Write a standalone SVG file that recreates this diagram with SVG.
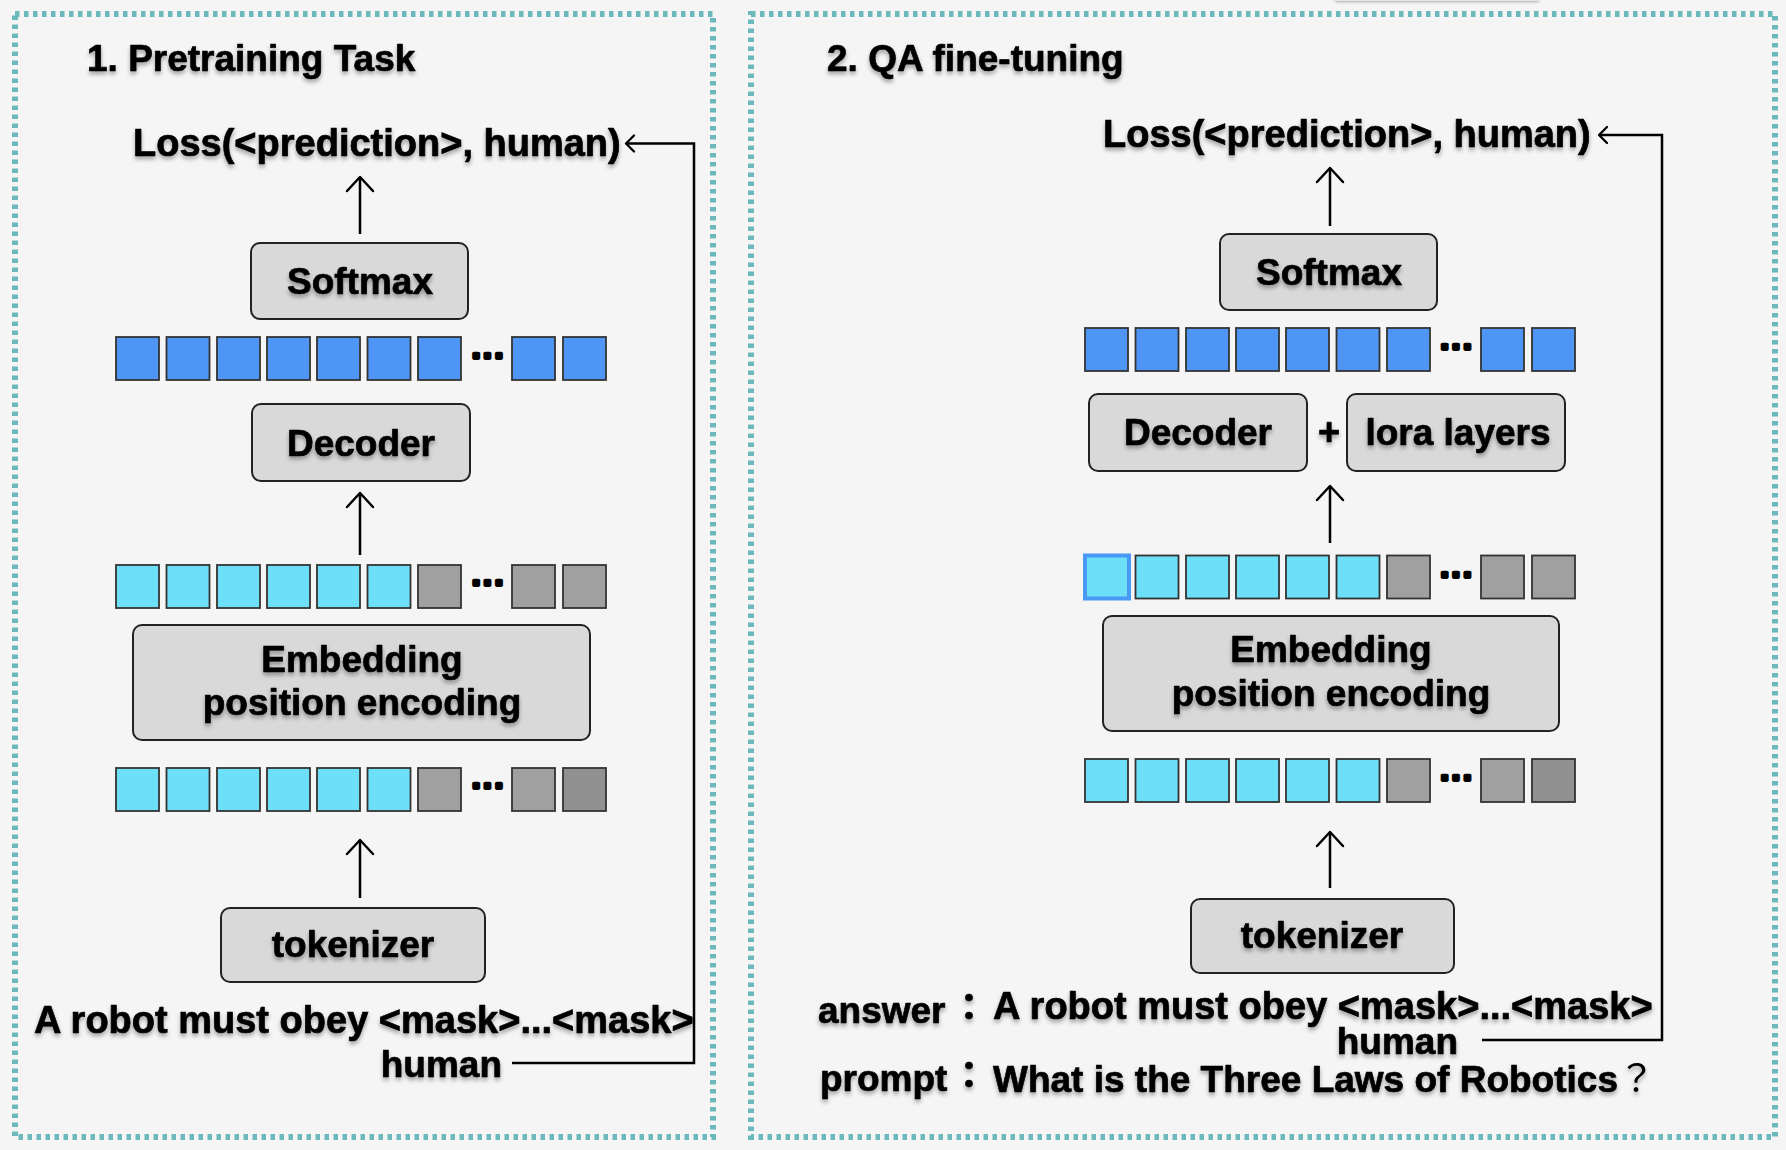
<svg xmlns="http://www.w3.org/2000/svg" width="1786" height="1150" viewBox="0 0 1786 1150">
<style>
.panel{fill:none;stroke:#6bb9bd;stroke-width:6;stroke-dasharray:4.5 4.5}
.box{fill:#d9d9d9;stroke:#222;stroke-width:2}
.sq{stroke:#333;stroke-width:1.8}
.b{fill:#4f95f5}
.c{fill:#6ddff9}
.g{fill:#a0a0a0}
.g2{fill:#919191}
.hl{stroke:#4a9af5;stroke-width:4}
text{font-family:"Liberation Sans",Arial,"Noto Sans CJK JP",sans-serif;font-weight:bold;fill:#000;stroke:#000;stroke-width:0.7;stroke-linejoin:round}
.t{font-size:37px}
.big{font-size:38px}
.mid{text-anchor:middle}
.end{text-anchor:end}
.sh{filter:url(#ts)}
.dots{font-size:30px;stroke-width:3.8;letter-spacing:3px;text-anchor:middle}
.ln{fill:none;stroke:#000;stroke-width:2.5}
</style>
<defs>
<filter id="ts" x="-5%" y="-30%" width="110%" height="170%">
<feDropShadow dx="0" dy="3" stdDeviation="2" flood-color="#000" flood-opacity="0.35"/>
</filter>
<filter id="bs" x="-10%" y="-100%" width="120%" height="400%">
<feDropShadow dx="0" dy="1" stdDeviation="1.5" flood-color="#000" flood-opacity="0.3"/>
</filter>
<marker id="up" viewBox="-16 -15 18 30" refX="0" refY="0" markerWidth="18" markerHeight="30" markerUnits="userSpaceOnUse" orient="auto">
<path d="M-14,-13 L0,0 L-14,13" fill="none" stroke="#000" stroke-width="2.5" stroke-linecap="round" stroke-linejoin="round"/>
</marker>
<marker id="sm" viewBox="-10 -10 12 20" refX="0" refY="0" markerWidth="12" markerHeight="20" markerUnits="userSpaceOnUse" orient="auto">
<path d="M-8,-8 L0,0 L-8,8" fill="none" stroke="#000" stroke-width="2.3" stroke-linecap="round" stroke-linejoin="round"/>
</marker>
</defs>
<rect x="0" y="0" width="1786" height="1150" fill="#f5f5f5"/>
<rect x="1335" y="-8" width="204" height="9" rx="2" fill="#e6e6e6" filter="url(#bs)"/>

<g id="panel-pretraining">
<rect class="panel" x="15" y="14" width="698" height="1123"/>
<text class="t sh" x="87" y="71">1. Pretraining Task</text>
</g>
<g id="panel-qa">
<rect class="panel" x="751" y="14" width="1024" height="1123"/>
<text class="t sh" x="827" y="71">2. QA fine-tuning</text>
</g>

<!-- Left panel nodes -->
<g id="loss-left"><text class="big sh" x="133" y="156">Loss(&lt;prediction&gt;, human)</text></g>
<g id="softmax-left"><rect class="box" x="251" y="243" width="217" height="76" rx="9"/><text class="t mid sh" x="360" y="294">Softmax</text></g>
<g id="logits-left">
<rect class="sq b" x="116" y="337" width="43" height="43"/>
<rect class="sq b" x="166.5" y="337" width="43" height="43"/>
<rect class="sq b" x="217" y="337" width="43" height="43"/>
<rect class="sq b" x="267" y="337" width="43" height="43"/>
<rect class="sq b" x="317" y="337" width="43" height="43"/>
<rect class="sq b" x="367.5" y="337" width="43" height="43"/>
<rect class="sq b" x="418" y="337" width="43" height="43"/>
<text class="dots" x="489" y="357.5">...</text>
<rect class="sq b" x="512" y="337" width="43" height="43"/>
<rect class="sq b" x="563" y="337" width="43" height="43"/>
</g>
<g id="decoder-left"><rect class="box" x="252" y="404" width="218" height="77" rx="9"/><text class="t mid sh" x="361" y="456">Decoder</text></g>
<g id="embeds-left">
<rect class="sq c" x="116" y="565" width="43" height="43"/>
<rect class="sq c" x="166.5" y="565" width="43" height="43"/>
<rect class="sq c" x="217" y="565" width="43" height="43"/>
<rect class="sq c" x="267" y="565" width="43" height="43"/>
<rect class="sq c" x="317" y="565" width="43" height="43"/>
<rect class="sq c" x="367.5" y="565" width="43" height="43"/>
<rect class="sq g" x="418" y="565" width="43" height="43"/>
<text class="dots" x="489" y="585">...</text>
<rect class="sq g" x="512" y="565" width="43" height="43"/>
<rect class="sq g" x="563" y="565" width="43" height="43"/>
</g>
<g id="embedding-left"><rect class="box" x="133" y="625" width="457" height="115" rx="9"/><text class="t mid sh" x="362" y="672">Embedding</text><text class="t mid sh" x="362" y="715">position encoding</text></g>
<g id="tokens-left">
<rect class="sq c" x="116" y="768" width="43" height="43"/>
<rect class="sq c" x="166.5" y="768" width="43" height="43"/>
<rect class="sq c" x="217" y="768" width="43" height="43"/>
<rect class="sq c" x="267" y="768" width="43" height="43"/>
<rect class="sq c" x="317" y="768" width="43" height="43"/>
<rect class="sq c" x="367.5" y="768" width="43" height="43"/>
<rect class="sq g" x="418" y="768" width="43" height="43"/>
<text class="dots" x="489" y="788">...</text>
<rect class="sq g" x="512" y="768" width="43" height="43"/>
<rect class="sq g2" x="563" y="768" width="43" height="43"/>
</g>
<g id="tokenizer-left"><rect class="box" x="221" y="908" width="264" height="74" rx="9"/><text class="t mid sh" x="353" y="957">tokenizer</text></g>
<g id="input-left">
<text class="big sh" x="34" y="1033">A robot must obey &lt;mask&gt;...&lt;mask&gt;</text>
<text class="t end sh" x="502" y="1077">human</text>
</g>

<!-- Right panel nodes -->
<g id="loss-right"><text class="big sh" x="1103" y="147">Loss(&lt;prediction&gt;, human)</text></g>
<g id="softmax-right"><rect class="box" x="1220" y="234" width="217" height="76" rx="9"/><text class="t mid sh" x="1329" y="285">Softmax</text></g>
<g id="logits-right">
<rect class="sq b" x="1085" y="328" width="43" height="43"/>
<rect class="sq b" x="1135.5" y="328" width="43" height="43"/>
<rect class="sq b" x="1186" y="328" width="43" height="43"/>
<rect class="sq b" x="1236" y="328" width="43" height="43"/>
<rect class="sq b" x="1286" y="328" width="43" height="43"/>
<rect class="sq b" x="1336.5" y="328" width="43" height="43"/>
<rect class="sq b" x="1387" y="328" width="43" height="43"/>
<text class="dots" x="1457.5" y="349">...</text>
<rect class="sq b" x="1481" y="328" width="43" height="43"/>
<rect class="sq b" x="1532" y="328" width="43" height="43"/>
</g>
<g id="decoder-right"><rect class="box" x="1089" y="394" width="218" height="77" rx="9"/><text class="t mid sh" x="1198" y="445">Decoder</text></g>
<g id="plus-right"><text class="big mid sh" x="1329" y="445">+</text></g>
<g id="lora-right"><rect class="box" x="1347" y="394" width="218" height="77" rx="9"/><text class="t mid sh" x="1458" y="445">lora layers</text></g>
<g id="embeds-right">
<rect class="sq c hl" x="1085" y="555.5" width="44" height="43"/>
<rect class="sq c" x="1135.5" y="555.5" width="43" height="43"/>
<rect class="sq c" x="1186" y="555.5" width="43" height="43"/>
<rect class="sq c" x="1236" y="555.5" width="43" height="43"/>
<rect class="sq c" x="1286" y="555.5" width="43" height="43"/>
<rect class="sq c" x="1336.5" y="555.5" width="43" height="43"/>
<rect class="sq g" x="1387" y="555.5" width="43" height="43"/>
<text class="dots" x="1457.5" y="577">...</text>
<rect class="sq g" x="1481" y="555.5" width="43" height="43"/>
<rect class="sq g" x="1532" y="555.5" width="43" height="43"/>
</g>
<g id="embedding-right"><rect class="box" x="1103" y="616" width="456" height="115" rx="9"/><text class="t mid sh" x="1331" y="662">Embedding</text><text class="t mid sh" x="1331" y="706">position encoding</text></g>
<g id="tokens-right">
<rect class="sq c" x="1085" y="759" width="43" height="43"/>
<rect class="sq c" x="1135.5" y="759" width="43" height="43"/>
<rect class="sq c" x="1186" y="759" width="43" height="43"/>
<rect class="sq c" x="1236" y="759" width="43" height="43"/>
<rect class="sq c" x="1286" y="759" width="43" height="43"/>
<rect class="sq c" x="1336.5" y="759" width="43" height="43"/>
<rect class="sq g" x="1387" y="759" width="43" height="43"/>
<text class="dots" x="1457.5" y="780">...</text>
<rect class="sq g" x="1481" y="759" width="43" height="43"/>
<rect class="sq g2" x="1532" y="759" width="43" height="43"/>
</g>
<g id="tokenizer-right"><rect class="box" x="1191" y="899" width="263" height="74" rx="9"/><text class="t mid sh" x="1322" y="948">tokenizer</text></g>
<g id="answer-right">
<text class="t sh" x="818" y="1023">answer</text>
<text class="t mid sh" x="969" y="1021">：</text>
<text class="big sh" x="993" y="1019">A robot must obey &lt;mask&gt;...&lt;mask&gt;</text>
<text class="t end sh" x="1458" y="1054">human</text>
</g>
<g id="prompt-right">
<text class="t sh" x="820" y="1091">prompt</text>
<text class="t mid sh" x="969" y="1089">：</text>
<text class="t sh" x="993" y="1092">What is the Three Laws of Robotics<tspan font-weight="normal" stroke-width="0">？</tspan></text>
</g>

<g id="connectors">
<line class="ln" x1="360" y1="234" x2="360" y2="177" marker-end="url(#up)"/>
<line class="ln" x1="360" y1="555" x2="360" y2="493" marker-end="url(#up)"/>
<line class="ln" x1="360" y1="898" x2="360" y2="840" marker-end="url(#up)"/>
<path class="ln" d="M512,1063 H694 V143.5 H626" marker-end="url(#sm)"/>
<line class="ln" x1="1330" y1="226" x2="1330" y2="168" marker-end="url(#up)"/>
<line class="ln" x1="1330" y1="543" x2="1330" y2="486" marker-end="url(#up)"/>
<line class="ln" x1="1330" y1="888" x2="1330" y2="832" marker-end="url(#up)"/>
<path class="ln" d="M1482,1040 H1662 V135 H1599" marker-end="url(#sm)"/>
</g>
</svg>
